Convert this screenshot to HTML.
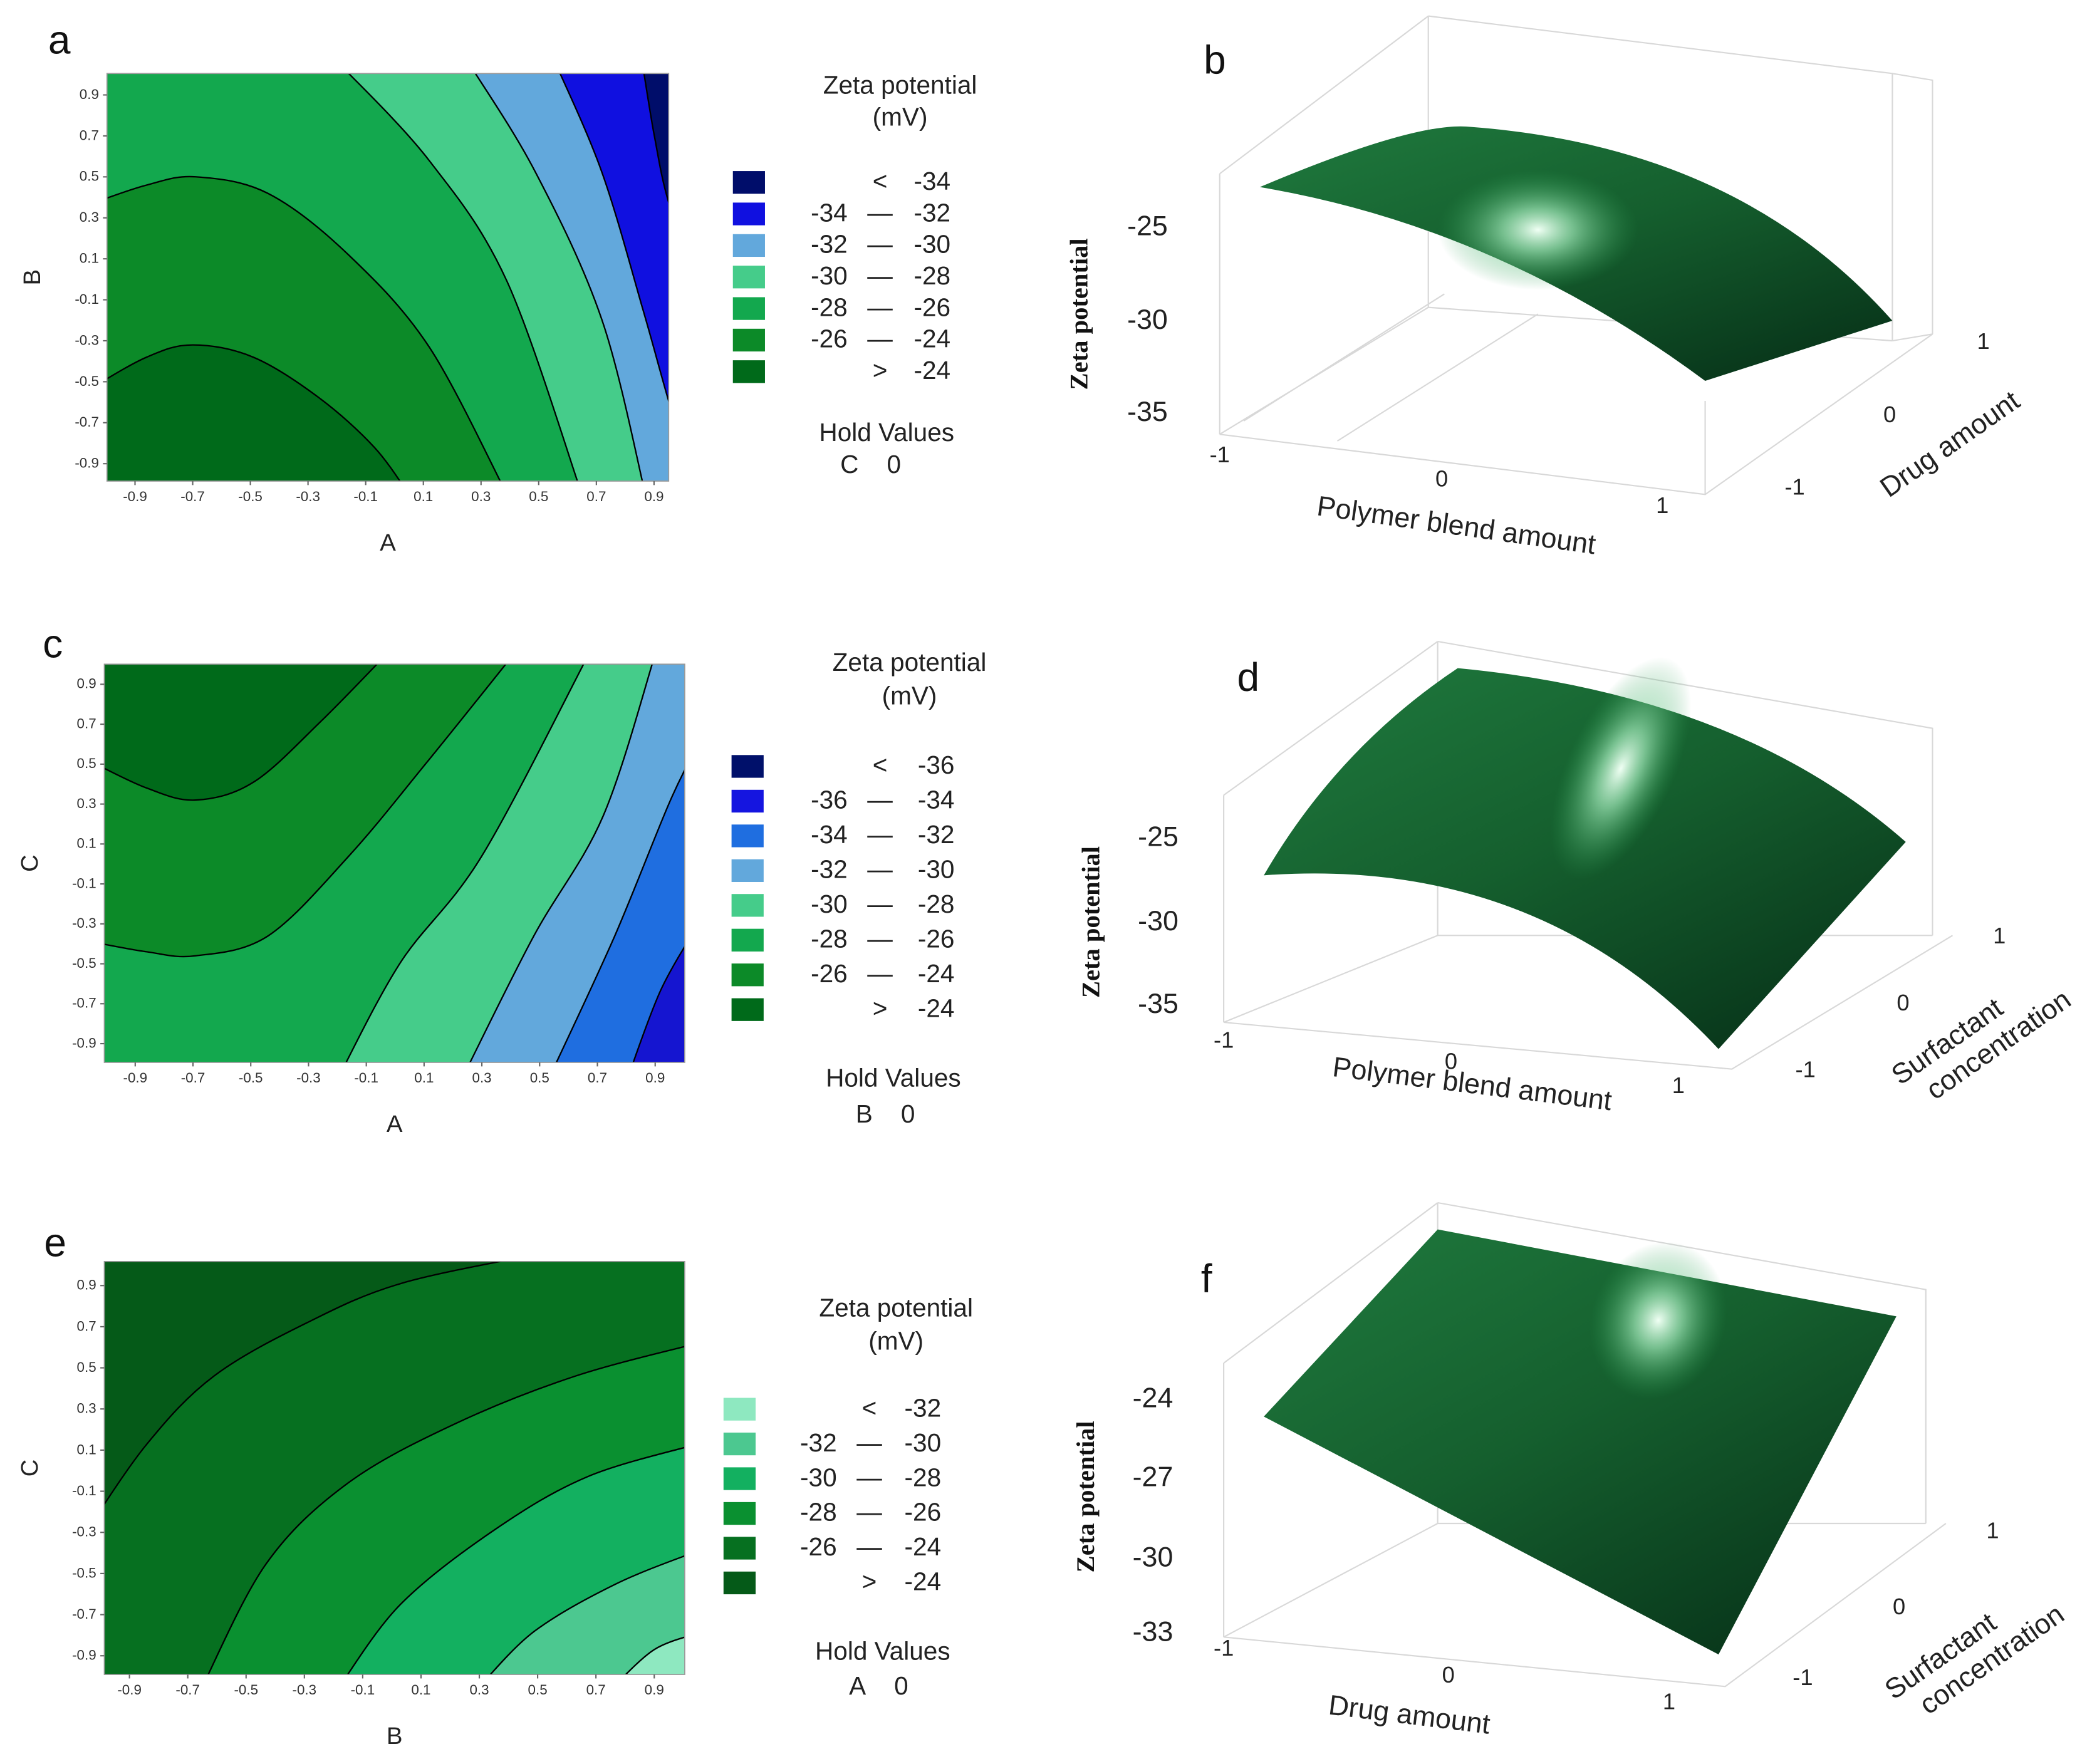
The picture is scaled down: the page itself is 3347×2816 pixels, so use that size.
<!DOCTYPE html>
<html><head><meta charset="utf-8"><style>
html,body{margin:0;padding:0;background:#fff;}
svg{display:block;}
text{font-family:"Liberation Sans",sans-serif;}
.tk{font-size:10.5px;fill:#333;}
.lg{font-size:19px;fill:#222;}
.ax{font-size:18px;fill:#222;}
.pl{font-size:30px;fill:#111;}
.t3{font-size:21px;fill:#222;}
.zt{font-family:"Liberation Serif",serif;font-weight:bold;font-size:19px;fill:#111;}
</style></head><body>
<svg id="fig" xmlns="http://www.w3.org/2000/svg" width="3347" height="2816" viewBox="0 0 1568 1320" preserveAspectRatio="none">
<defs>
<linearGradient id="gb" x1="0" y1="0" x2="0.8" y2="1"><stop offset="0" stop-color="#1f7a3e"/><stop offset="0.5" stop-color="#155f2e"/><stop offset="1" stop-color="#08351a"/></linearGradient>
<radialGradient id="hl" cx="0.5" cy="0.5" r="0.5"><stop offset="0" stop-color="#f0fff4" stop-opacity="1"/><stop offset="0.35" stop-color="#a0e8b8" stop-opacity="0.7"/><stop offset="1" stop-color="#2a9a50" stop-opacity="0"/></radialGradient>
</defs>

<text class="pl" x="36" y="40">a</text>
<text class="pl" x="900" y="55">b</text>
<text class="pl" x="32" y="492">c</text>
<text class="pl" x="925" y="517">d</text>
<text class="pl" x="33" y="940">e</text>
<text class="pl" x="898" y="967">f</text>

<g id="contours"></g>

<g>
<text class="lg" x="673" y="70" text-anchor="middle">Zeta potential</text>
<text class="lg" x="673" y="94" text-anchor="middle">(mV)</text>
<g id="lega"></g>
<text class="lg" x="663" y="330" text-anchor="middle">Hold Values</text>
<text class="lg" x="651" y="354" text-anchor="middle">C&#160;&#160;&#160;&#160;0</text>
</g>
<g>
<text class="lg" x="680" y="502" text-anchor="middle">Zeta potential</text>
<text class="lg" x="680" y="527" text-anchor="middle">(mV)</text>
<g id="legc"></g>
<text class="lg" x="668" y="813" text-anchor="middle">Hold Values</text>
<text class="lg" x="662" y="840" text-anchor="middle">B&#160;&#160;&#160;&#160;0</text>
</g>
<g>
<text class="lg" x="670" y="985" text-anchor="middle">Zeta potential</text>
<text class="lg" x="670" y="1010" text-anchor="middle">(mV)</text>
<g id="lege"></g>
<text class="lg" x="660" y="1242" text-anchor="middle">Hold Values</text>
<text class="lg" x="657" y="1268" text-anchor="middle">A&#160;&#160;&#160;&#160;0</text>
</g>

<g stroke="#d8d8d8" stroke-width="1" fill="none">
<path d="M1068,12 L1068,230 M1068,12 L1415,55 L1415,255 M1068,230 L1415,255 M912,130 L1068,12 M912,130 L912,325 M912,325 L1068,230 M912,325 L1275,370 L1445,250 L1415,255 M1445,250 L1445,60 L1415,55 M1275,370 L1275,300 M930,315 L1080,220 M1000,330 L1150,235"/>
</g>
<path d="M942,140 Q1060,90 1100,95 Q1300,110 1415,240 L1275,285 Q1120,170 942,140 Z" fill="url(#gb)"/>
<ellipse cx="1150" cy="172" rx="75" ry="45" fill="url(#hl)"/>
<text class="zt" transform="translate(813,235) rotate(-90)" text-anchor="middle">Zeta potential</text>
<g class="t3"><text x="858" y="176" text-anchor="middle">-25</text><text x="858" y="246" text-anchor="middle">-30</text><text x="858" y="315" text-anchor="middle">-35</text></g>
<g style="font-size:17px" fill="#222"><text x="912" y="346" text-anchor="middle">-1</text><text x="1078" y="364" text-anchor="middle">0</text><text x="1243" y="384" text-anchor="middle">1</text>
<text x="1483" y="261" text-anchor="middle">1</text><text x="1413" y="316" text-anchor="middle">0</text><text x="1342" y="370" text-anchor="middle">-1</text></g>
<text class="t3" transform="translate(1088,400) rotate(8)" text-anchor="middle">Polymer blend amount</text>
<text class="t3" transform="translate(1462,338) rotate(-35)" text-anchor="middle">Drug amount</text>

<g stroke="#d8d8d8" stroke-width="1" fill="none">
<path d="M1075,480 L1075,700 M1075,480 L1445,545 L1445,700 M915,595 L1075,480 M915,595 L915,765 M915,765 L1075,700 L1445,700 M915,765 L1295,800 L1460,700"/>
</g>
<path d="M945,655 Q1000,560 1090,500 Q1300,520 1425,630 L1285,785 Q1150,640 945,655 Z" fill="url(#gb)"/>
<ellipse cx="1212" cy="575" rx="40" ry="90" transform="rotate(25 1212 575)" fill="url(#hl)"/>
<text class="zt" transform="translate(822,690) rotate(-90)" text-anchor="middle">Zeta potential</text>
<g class="t3"><text x="866" y="633" text-anchor="middle">-25</text><text x="866" y="696" text-anchor="middle">-30</text><text x="866" y="758" text-anchor="middle">-35</text></g>
<g style="font-size:17px" fill="#222"><text x="915" y="784" text-anchor="middle">-1</text><text x="1085" y="800" text-anchor="middle">0</text><text x="1255" y="818" text-anchor="middle">1</text>
<text x="1495" y="706" text-anchor="middle">1</text><text x="1423" y="756" text-anchor="middle">0</text><text x="1350" y="806" text-anchor="middle">-1</text></g>
<text class="t3" transform="translate(1100,818) rotate(7)" text-anchor="middle">Polymer blend amount</text>
<text class="t3" transform="translate(1460,785) rotate(-35)" text-anchor="middle"><tspan x="0" dy="0">Surfactant</tspan><tspan x="30" dy="24">concentration</tspan></text>

<g stroke="#d8d8d8" stroke-width="1" fill="none">
<path d="M1075,900 L1075,1140 M1075,900 L1440,965 L1440,1140 M915,1020 L1075,900 M915,1020 L915,1225 M915,1225 L1075,1140 L1440,1140 M915,1225 L1290,1262 L1455,1140"/>
</g>
<path d="M945,1060 L1075,920 L1418,985 L1285,1238 Z" fill="url(#gb)"/>
<ellipse cx="1240" cy="988" rx="50" ry="60" transform="rotate(20 1240 988)" fill="url(#hl)"/>
<text class="zt" transform="translate(818,1120) rotate(-90)" text-anchor="middle">Zeta potential</text>
<g class="t3"><text x="862" y="1053" text-anchor="middle">-24</text><text x="862" y="1112" text-anchor="middle">-27</text><text x="862" y="1172" text-anchor="middle">-30</text><text x="862" y="1228" text-anchor="middle">-33</text></g>
<g style="font-size:17px" fill="#222"><text x="915" y="1239" text-anchor="middle">-1</text><text x="1083" y="1259" text-anchor="middle">0</text><text x="1248" y="1279" text-anchor="middle">1</text>
<text x="1490" y="1151" text-anchor="middle">1</text><text x="1420" y="1208" text-anchor="middle">0</text><text x="1348" y="1261" text-anchor="middle">-1</text></g>
<text class="t3" transform="translate(1053,1290) rotate(7)" text-anchor="middle">Drug amount</text>
<text class="t3" transform="translate(1455,1245) rotate(-35)" text-anchor="middle"><tspan x="0" dy="0">Surfactant</tspan><tspan x="30" dy="24">concentration</tspan></text>
</svg>
<script>
const tickVals = [-0.9,-0.7,-0.5,-0.3,-0.1,0.1,0.3,0.5,0.7,0.9];
const aContours = [
 [[-1.05,-0.53],[-0.86,-0.38],[-0.70,-0.32],[-0.49,-0.38],[-0.26,-0.58],[-0.07,-0.82],[0.05,-1.05]],
 [[-1.05,0.37],[-0.86,0.46],[-0.69,0.50],[-0.44,0.42],[-0.16,0.12],[0.12,-0.33],[0.39,-1.05]],
 [[-0.19,1.05],[0.12,0.58],[0.39,-0.01],[0.65,-1.05]],
 [[0.26,1.05],[0.49,0.52],[0.72,-0.20],[0.87,-1.05]],
 [[0.56,1.05],[0.72,0.52],[0.86,-0.14],[0.95,-0.59],[1.05,-1.05]],
 [[0.86,1.05],[0.90,0.71],[0.95,0.38],[1.05,0.0]]
];
const aColors = ["#006a1a","#0c8a28","#13a84e","#45cc8a","#62a8dc","#1010e0","#000d6a"];
const aLegendLabels = [["<","-34"],["-34","-32"],["-32","-30"],["-30","-28"],["-28","-26"],["-26","-24"],[">","-24"]];
const aLegendColors = ["#000d6a","#1010e0","#62a8dc","#45cc8a","#13a84e","#0c8a28","#006a1a"];

const cContours = [
 [[-1.05,0.51],[-0.86,0.38],[-0.69,0.32],[-0.49,0.41],[-0.26,0.71],[-0.03,1.05]],
 [[-1.05,-0.39],[-0.86,-0.44],[-0.69,-0.46],[-0.44,-0.36],[-0.16,0.04],[0.11,0.51],[0.41,1.05]],
 [[-0.19,-1.05],[0.02,-0.49],[0.30,0.04],[0.67,1.05]],
 [[0.24,-1.05],[0.48,-0.36],[0.72,0.24],[0.90,1.05]],
 [[0.54,-1.05],[0.76,-0.36],[0.95,0.31],[1.05,0.6]],
 [[0.81,-1.05],[0.92,-0.63],[1.05,-0.3]]
];
const cColors = ["#006a1a","#0c8a28","#13a84e","#45cc8a","#62a8dc","#1f6ee0","#1515d0"];
const cLegendLabels = [["<","-36"],["-36","-34"],["-34","-32"],["-32","-30"],["-30","-28"],["-28","-26"],["-26","-24"],[">","-24"]];
const cLegendColors = ["#00106a","#1515e0","#1f6ee0","#62a8dc","#45cc8a","#13a84e","#0c8a28","#006a1a"];

const eContours = [
 [[-1.05,-0.30],[-0.84,0.13],[-0.61,0.46],[-0.29,0.72],[0.03,0.91],[0.49,1.05]],
 [[-0.65,-1.05],[-0.43,-0.45],[-0.15,-0.06],[0.22,0.23],[0.63,0.46],[1.05,0.62]],
 [[-0.18,-1.05],[0.03,-0.65],[0.35,-0.29],[0.67,-0.03],[1.05,0.13]],
 [[0.30,-1.05],[0.49,-0.78],[0.77,-0.55],[1.05,-0.39]],
 [[0.76,-1.05],[0.90,-0.87],[1.05,-0.79]]
];
const eColors = ["#055a18","#067020","#0a9030","#13b060","#4cc890","#8ee8c0"];
const eLegendLabels = [["<","-32"],["-32","-30"],["-30","-28"],["-28","-26"],["-26","-24"],[">","-24"]];
const eLegendColors = ["#8ee8c0","#4cc890","#13b060","#0a9030","#067020","#055a18"];

const NS = "http://www.w3.org/2000/svg";
function mk(tag, attrs, parent){ const e=document.createElementNS(NS,tag); for(const k in attrs) e.setAttribute(k,attrs[k]); parent.appendChild(e); return e; }
function smooth(pts){
  let d='M'+pts[0][0].toFixed(1)+','+pts[0][1].toFixed(1);
  for(let i=0;i<pts.length-1;i++){
    const p0=pts[Math.max(i-1,0)],p1=pts[i],p2=pts[i+1],p3=pts[Math.min(i+2,pts.length-1)];
    const c1=[p1[0]+(p2[0]-p0[0])/6,p1[1]+(p2[1]-p0[1])/6];
    const c2=[p2[0]-(p3[0]-p1[0])/6,p2[1]-(p3[1]-p1[1])/6];
    d+=' C'+c1[0].toFixed(1)+','+c1[1].toFixed(1)+' '+c2[0].toFixed(1)+','+c2[1].toFixed(1)+' '+p2[0].toFixed(1)+','+p2[1].toFixed(1);
  }
  return d;
}

function drawContour(id, cfg, lines, colors, xLabel, yLabel){
  const root=document.getElementById('contours');
  const g=mk('g',{},root);
  
  
  const X=v=>cfg.cx+v*cfg.sx, Y=v=>cfg.cy-v*cfg.sy;
  const cp=mk('clipPath',{id:'clip'+id},g);
  mk('rect',{x:cfg.x0,y:cfg.y0,width:cfg.x1-cfg.x0,height:cfg.y1-cfg.y0},cp);
  const inner=mk('g',{'clip-path':'url(#clip'+id+')'},g);
  const bg=mk('rect',{x:cfg.x0,y:cfg.y0,width:cfg.x1-cfg.x0,height:cfg.y1-cfg.y0,fill:colors[0]},inner);
  
  
  lines.forEach((ln,i)=>{
    const pts=ln.map(p=>[X(p[0]),Y(p[1])]);
    const d=smooth(pts);
    const poly=d+' '+cfg.corners.map(c=>'L'+X(c[0]).toFixed(1)+','+Y(c[1]).toFixed(1)).join(' ')+' Z';
    const r=mk('path',{d:poly,fill:colors[i+1]},inner);
    
    
    const l=mk('path',{d:d,fill:'none',stroke:'#000','stroke-width':1.1},inner);
    
    
  });
  mk('rect',{x:cfg.x0,y:cfg.y0,width:cfg.x1-cfg.x0,height:cfg.y1-cfg.y0,fill:'none',stroke:'#999','stroke-width':0.8},g);
  tickVals.forEach(v=>{
    const t=mk('text',{x:X(v),y:cfg.y1+15,'text-anchor':'middle',class:'tk'},g); t.textContent=v.toFixed(1);
    
    
    mk('line',{x1:X(v),x2:X(v),y1:cfg.y1,y2:cfg.y1+3,stroke:'#666'},g);
    const u=mk('text',{x:cfg.x0-6,y:Y(v)+3,'text-anchor':'end',class:'tk'},g); u.textContent=v.toFixed(1);
    
    
    mk('line',{x1:cfg.x0-3,x2:cfg.x0,y1:Y(v),y2:Y(v),stroke:'#666'},g);
  });
  const xl=mk('text',{x:(cfg.x0+cfg.x1)/2,y:cfg.y1+52,'text-anchor':'middle',class:'ax'},g); xl.textContent=xLabel;
  
  
  const yl=mk('text',{transform:'translate('+(cfg.x0-50)+','+((cfg.y0+cfg.y1)/2)+') rotate(-90)','text-anchor':'middle',class:'ax'},g); yl.textContent=yLabel;
  
  
}

function drawLegend(id, labels, colors, sx, y0, dy, xa, xd, xb){
  const g=document.getElementById(id);
  labels.forEach((lab,i)=>{
    const y=y0+i*dy;
    const s=mk('rect',{x:sx,y:y-8,width:24,height:17,fill:colors[i]},g);
    
    
    if(lab[0]==='<'||lab[0]==='>'){
      const t=mk('text',{x:xd,y:y+6,'text-anchor':'middle',class:'lg'},g); t.textContent=lab[0];
      
      
    } else {
      const t=mk('text',{x:xa,y:y+6,'text-anchor':'middle',class:'lg'},g); t.textContent=lab[0];
      
      
      const d=mk('text',{x:xd,y:y+6,'text-anchor':'middle',class:'lg'},g); d.textContent='\u2014';
      
      
    }
    const t2=mk('text',{x:xb,y:y+6,'text-anchor':'middle',class:'lg'},g); t2.textContent=lab[1];
    
    
  });
}

drawContour('a',{x0:80,x1:500,y0:55,y1:360,cx:295,sx:215.6,cy:209,sy:153.3,corners:[[1.3,-1.3],[1.3,1.3],[-1.3,1.3]]},aContours,aColors,'A','B');
drawContour('c',{x0:78,x1:512,y0:497,y1:795,cx:295.5,sx:216,cy:646.5,sy:149.4,corners:[[1.3,1.3],[1.3,-1.3],[-1.3,-1.3]]},cContours,cColors,'A','C');
drawContour('e',{x0:78,x1:512,y0:944,y1:1253,cx:293,sx:218,cy:1100.5,sy:153.9,corners:[[1.3,1.3],[1.3,-1.3],[-1.3,-1.3]]},eContours,eColors,'B','C');
drawLegend('lega',aLegendLabels,aLegendColors,548,136,23.6,620,658,697);
drawLegend('legc',cLegendLabels,cLegendColors,547,573,26,620,658,700);
drawLegend('lege',eLegendLabels,eLegendColors,541,1054,26,612,650,690);
</script>
</body></html>
